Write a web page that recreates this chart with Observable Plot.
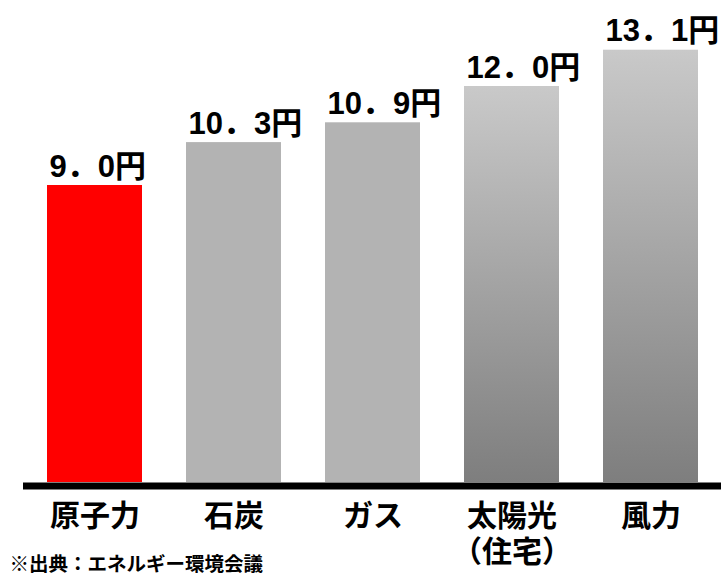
<!DOCTYPE html>
<html>
<head>
<meta charset="utf-8">
<script src="https://cdn.jsdelivr.net/npm/d3@7"></script>
<script src="https://cdn.jsdelivr.net/npm/@observablehq/plot@0.6"></script>
<style>
  html, body { margin: 0; padding: 0; background: #ffffff; }
  #chart svg { display: block; }
</style>
</head>
<body>
<div id="chart"></div>
<script>
// Data (発電コスト, 円/kWh)
const categories = ["原子力", "石炭", "ガス", "太陽光\n（住宅）", "風力"];
const costs = [9.0, 10.3, 10.9, 12.0, 13.1];
const valueLabels = ["9．0円", "10．3円", "10．9円", "12．0円", "13．1円"];
const caption = "※出典：エネルギー環境会議";

const data = categories.map((c, i) => ({category: c, cost: costs[i], label: valueLabels[i], i}));

const gradientDefs = () => {
  const defs = d3.create("svg:defs");
  const g = defs.append("linearGradient")
    .attr("id", "barGrad")
    .attr("x1", 0).attr("y1", 0).attr("x2", 0).attr("y2", 1);
  g.append("stop").attr("offset", "0%").attr("stop-color", "#c9c9c9");
  g.append("stop").attr("offset", "100%").attr("stop-color", "#7e7e7e");
  return defs.node();
};

const bandwidthHalf = 47.5;

const chart = Plot.plot({
  width: 721,
  height: 575,
  marginTop: 20,
  marginBottom: 93,
  marginLeft: 23,
  marginRight: 0,
  style: {background: "#ffffff", color: "#000000"},
  x: {domain: categories, paddingInner: 0.32, paddingOuter: 0.16, axis: null},
  y: {domain: [0, 14], axis: null},
  marks: [
    gradientDefs,
    Plot.barY(data, {filter: d => d.i === 0, x: "category", y: "cost", fill: "#ff0000"}),
    Plot.barY(data, {filter: d => d.i === 1 || d.i === 2, x: "category", y: "cost", fill: "#b3b3b3"}),
    Plot.barY(data, {filter: d => d.i >= 3, x: "category", y: "cost", fill: "url(#barGrad)"}),
    Plot.ruleY([0], {stroke: "#000000", strokeWidth: 7, dy: 3.5}),
    Plot.text(data, {
      x: "category", y: "cost", text: "label",
      textAnchor: "start", lineAnchor: "bottom",
      dx: -bandwidthHalf + 2, dy: -9,
      fontSize: 31, fontWeight: 700,
      fontFamily: "'Liberation Sans', 'Noto Sans CJK JP', sans-serif",
      fill: "#000000"
    }),
    Plot.text(data, {
      x: "category", text: "category",
      frameAnchor: "bottom", lineAnchor: "top",
      dy: 17, lineHeight: 1.22,
      fontSize: 30, fontWeight: 700,
      fontFamily: "'Noto Sans CJK JP', sans-serif",
      fill: "#000000"
    }),
    Plot.text([caption], {
      text: d => d,
      frameAnchor: "bottom-left", textAnchor: "start", lineAnchor: "top",
      dx: -14, dy: 75,
      fontSize: 19.5, fontWeight: 700,
      fontFamily: "'Noto Sans CJK JP', sans-serif",
      fill: "#000000"
    })
  ]
});

document.getElementById("chart").appendChild(chart);
</script>
</body>
</html>
